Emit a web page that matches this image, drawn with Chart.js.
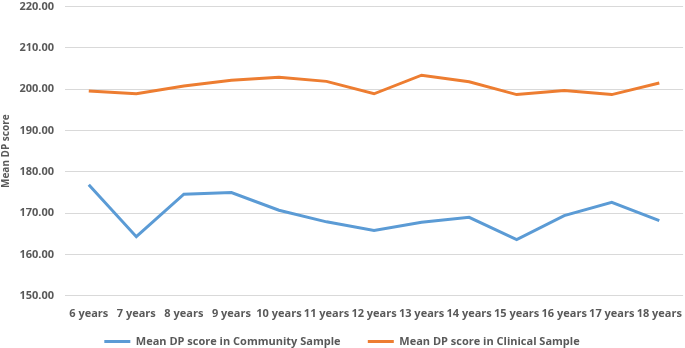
<!DOCTYPE html>
<html lang="en">
<head>
  <meta charset="UTF-8">
  <title>Mean DP score by age</title>
  <script src="https://cdn.jsdelivr.net/npm/chart.js"></script>
  <style>
    html, body { margin: 0; padding: 0; background: #fff; }
    #box { width: 685px; height: 348px; }
  </style>
</head>
<body>
  <div id="box"><canvas id="myChartCanvas"></canvas></div>

<script>
  // dados
  var idades = ["6 years", "7 years", "8 years", "9 years", "10 years", "11 years", "12 years",
    "13 years", "14 years", "15 years", "16 years", "17 years", "18 years"];
  var comunidade = [176.9, 164.3, 174.6, 175.0, 170.7, 167.9, 165.8, 167.8, 169.0, 163.6, 169.4, 172.6, 168.2];
  var clinica = [199.6, 198.9, 200.8, 202.2, 202.9, 201.9, 198.9, 203.4, 201.8, 198.7, 199.7, 198.7, 201.5];
  var nomeComunidade = "Mean DP score in Community Sample";
  var nomeClinica = "Mean DP score in Clinical Sample";

  var cinza = "#595959";
  var fonte = { family: "'Open Sans', sans-serif", size: 11, weight: "bold" };

  const config = {
    type: "line",
    data: {
      labels: idades,
      datasets: [
        { label: nomeComunidade, data: comunidade, borderColor: "#5B9BD5", backgroundColor: "#5B9BD5",
          borderWidth: 3, pointRadius: 0, tension: 0 },
        { label: nomeClinica, data: clinica, borderColor: "#ED7D31", backgroundColor: "#ED7D31",
          borderWidth: 3, pointRadius: 0, tension: 0 }
      ]
    },
    options: {
      responsive: true,
      maintainAspectRatio: false,
      animation: false,
      layout: { padding: { top: -1, right: 1, left: 0, bottom: -9 } },
      plugins: {
        legend: {
          position: "bottom",
          labels: {
            color: cinza, font: fonte, usePointStyle: true, pointStyle: "line",
            pointStyleWidth: 26, padding: 13,
            // espaço extra entre os dois itens da legenda
            generateLabels: function (chart) {
              var itens = Chart.defaults.plugins.legend.labels.generateLabels(chart);
              itens[0].text = itens[0].text + "\u00a0\u00a0\u00a0\u00a0\u00a0";
              return itens;
            }
          }
        },
        tooltip: { enabled: false }
      },
      scales: {
        x: {
          offset: true,
          grid: { display: false },
          border: { display: false },
          ticks: { color: cinza, font: fonte, maxRotation: 0, autoSkip: false, padding: 3 }
        },
        y: {
          min: 150, max: 220,
          // marcas invisíveis para afastar os rótulos sem somar espaço no topo
          grid: { color: "#D9D9D9", lineWidth: 1, drawTicks: true, tickLength: 11, tickColor: "rgba(0,0,0,0)" },
          border: { display: false },
          ticks: { stepSize: 10, color: cinza, font: fonte, padding: 0,
            callback: function (v) { return v.toFixed(2); } },
          title: { display: true, text: "Mean DP score", color: cinza, font: { family: fonte.family, size: 10, weight: "bold" }, padding: 0 },
          afterFit: function (s) { s.width = 65; }
        }
      }
    }
  };

  let myChart = new Chart(document.getElementById("myChartCanvas"), config);
</script>
</body>
</html>
